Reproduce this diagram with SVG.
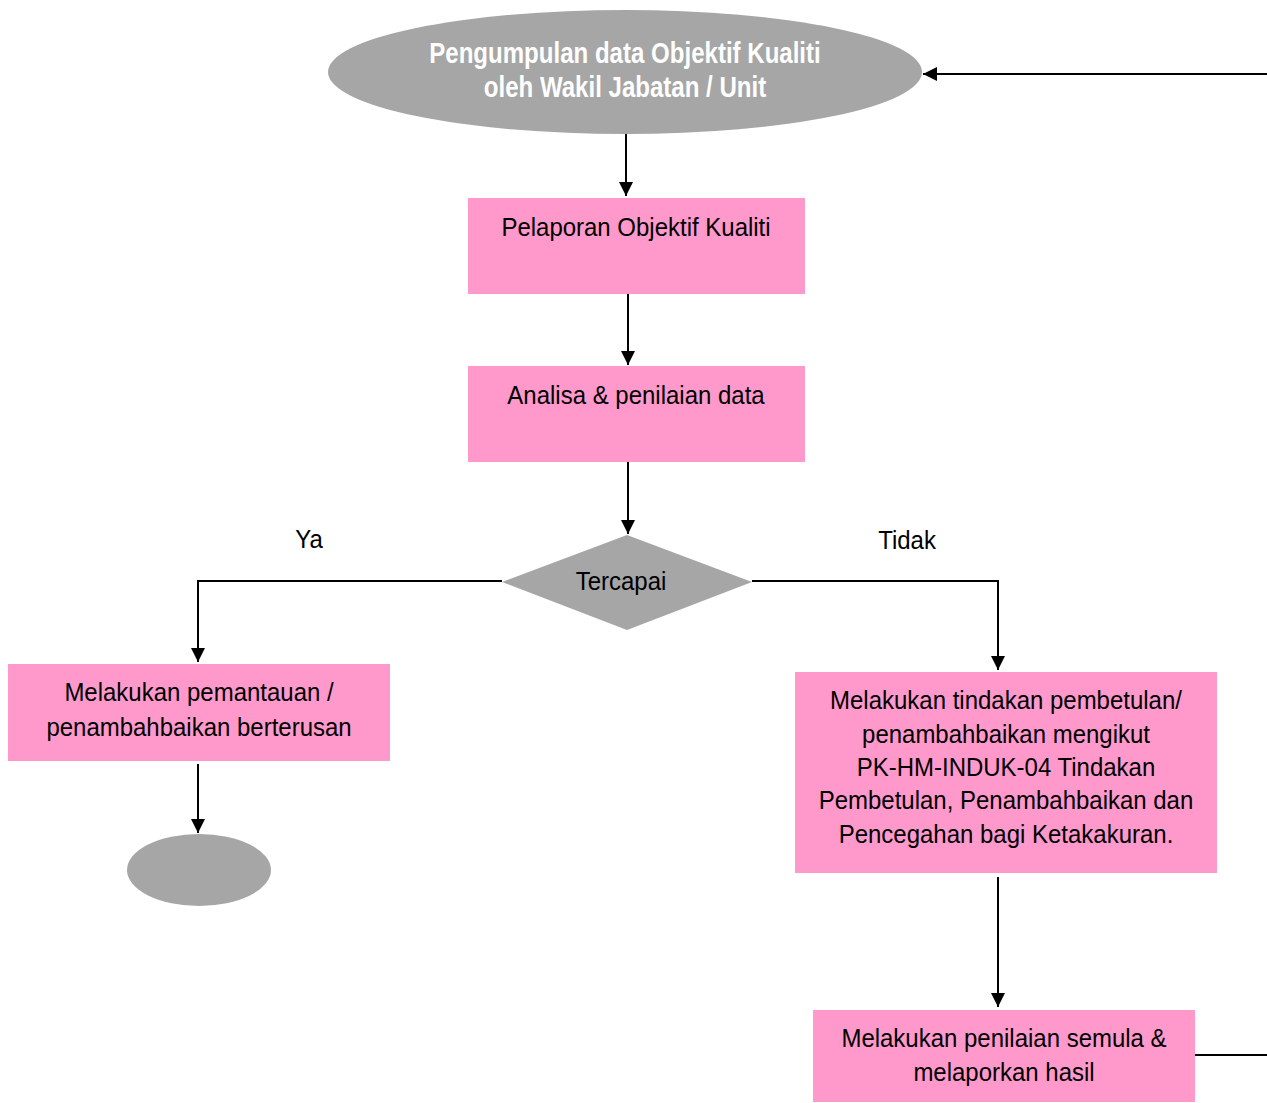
<svg xmlns="http://www.w3.org/2000/svg" width="1267" height="1103" viewBox="0 0 1267 1103">
<style>
.box{fill:#ff99cc}
.grey{fill:#a6a6a6}
.t{font-family:"Liberation Sans","Arial",sans-serif;font-size:26.5px;fill:#000;text-anchor:middle}
.w{fill:#fff;font-weight:bold;font-size:29px}
.c{stroke:#000;stroke-width:2;fill:none}
</style>
<defs>
<marker id="a" viewBox="0 0 14 14" refX="14" refY="7" markerWidth="14" markerHeight="14" markerUnits="userSpaceOnUse" orient="auto">
<path d="M0,0 L14,7 L0,14 z" fill="#000"/>
</marker>
</defs>
<g id="connectors">
<path class="c" d="M626,134 V196" marker-end="url(#a)"/>
<path class="c" d="M628,294 V365" marker-end="url(#a)"/>
<path class="c" d="M628,462 V534" marker-end="url(#a)"/>
<path class="c" d="M502,581 H198 V662" marker-end="url(#a)"/>
<path class="c" d="M752,581 H998 V670" marker-end="url(#a)"/>
<path class="c" d="M198,764 V833" marker-end="url(#a)"/>
<path class="c" d="M998,877 V1007" marker-end="url(#a)"/>
<path class="c" d="M1195,1055 H1267"/>
<path class="c" d="M1267,74 H923" marker-end="url(#a)"/>
</g>
<g id="n1">
<ellipse class="grey" cx="625" cy="72" rx="297" ry="62"/>
<text class="t w" transform="matrix(.83 0 0 1 625 63)">Pengumpulan data Objektif Kualiti</text>
<text class="t w" transform="matrix(.83 0 0 1 625 97)">oleh Wakil Jabatan / Unit</text>
</g>
<g id="n2">
<rect class="box" x="468" y="198" width="337" height="96"/>
<text class="t" transform="matrix(.905 0 0 1 636 236)">Pelaporan Objektif Kualiti</text>
</g>
<g id="n3">
<rect class="box" x="468" y="366" width="337" height="96"/>
<text class="t" transform="matrix(.905 0 0 1 636 404)">Analisa &amp; penilaian data</text>
</g>
<g id="n4">
<path class="grey" d="M627,535 L752,582 L627,630 L502,582 z"/>
<text class="t" transform="matrix(.905 0 0 1 621 590)">Tercapai</text>
</g>
<g id="lblYa"><text class="t" transform="matrix(.905 0 0 1 309 548)">Ya</text></g>
<g id="lblTidak"><text class="t" transform="matrix(.905 0 0 1 907 549)">Tidak</text></g>
<g id="n5">
<rect class="box" x="8" y="664" width="382" height="97"/>
<text class="t" transform="matrix(.905 0 0 1 199 701)">Melakukan pemantauan /</text>
<text class="t" transform="matrix(.905 0 0 1 199 736)">penambahbaikan berterusan</text>
</g>
<g id="n6">
<ellipse class="grey" cx="199" cy="870" rx="72" ry="36"/>
</g>
<g id="n7">
<rect class="box" x="795" y="672" width="422" height="201"/>
<text class="t" transform="matrix(.905 0 0 1 1006 709)">Melakukan tindakan pembetulan/</text>
<text class="t" transform="matrix(.905 0 0 1 1006 743)">penambahbaikan mengikut</text>
<text class="t" transform="matrix(.905 0 0 1 1006 776)">PK-HM-INDUK-04 Tindakan</text>
<text class="t" transform="matrix(.905 0 0 1 1006 809)">Pembetulan, Penambahbaikan dan</text>
<text class="t" transform="matrix(.905 0 0 1 1006 843)">Pencegahan bagi Ketakakuran.</text>
</g>
<g id="n8">
<rect class="box" x="813" y="1010" width="382" height="92"/>
<text class="t" transform="matrix(.905 0 0 1 1004 1047)">Melakukan penilaian semula &amp;</text>
<text class="t" transform="matrix(.905 0 0 1 1004 1081)">melaporkan hasil</text>
</g>
</svg>
